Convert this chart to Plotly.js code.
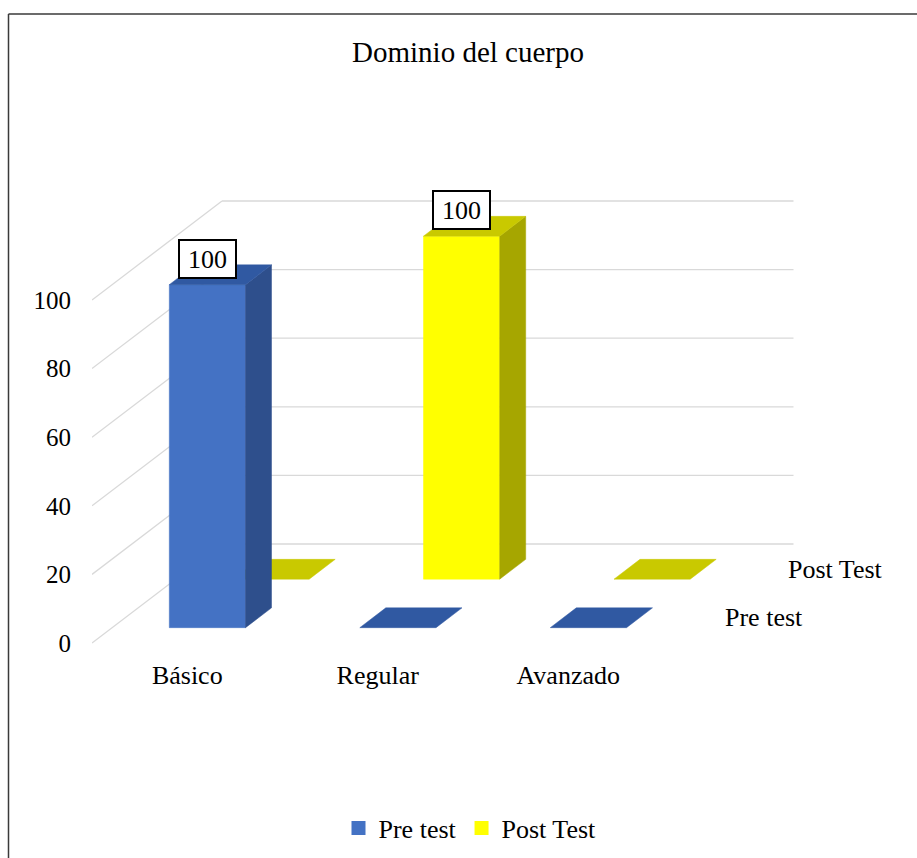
<!DOCTYPE html>
<html>
<head>
<meta charset="utf-8">
<script src="https://cdn.plot.ly/plotly-3.0.1.min.js"></script>
<style>
html,body{margin:0;padding:0;background:#ffffff;}
#chart{width:917px;height:858px;}
</style>
</head>
<body>
<div id="chart"></div>
<script>
// ---------- data ----------
const chartTitle = 'Dominio del cuerpo';
const categories = ['Básico', 'Regular', 'Avanzado'];
const seriesNames = ['Pre test', 'Post Test'];
const preTest = [100, 0, 0];
const postTest = [0, 100, 0];
const yTicks = [0, 20, 40, 60, 80, 100];

// ---------- styling / geometry ----------
const FONT = 'Liberation Serif';
const W = 917, H = 858;
const LEFT_PX = 92, ZERO_PX = 643;          // front-left corner of the floor
const CAT_PX = 190.5, VAL_PX = 3.43;         // pixels per category / per value unit
const DEPTH_X_PX = 130, DEPTH_Y_PX = 99;      // oblique shift of full depth
const MR = 17, MT = 100, PLOT_BOTTOM = 657;
const plotW = W - LEFT_PX - MR, plotH = PLOT_BOTTOM - MT;
const xRange = [0, plotW / CAT_PX];
const yRange = [-(PLOT_BOTTOM - ZERO_PX) / VAL_PX, (ZERO_PX - MT) / VAL_PX];
const DX = DEPTH_X_PX / CAT_PX, DY = DEPTH_Y_PX / VAL_PX;

const rowFront = [0.155, 0.645];   // depth position of each series row
const rowDepth = 0.2;
const barWidth = 0.4;
const seriesValues = [preTest, postTest];
const colors = [
  {front: '#4472C4', side: '#2E4F8C', top: '#3059A2', legend: '#4472C4'},
  {front: '#FFFF00', side: '#A6A600', top: '#C9C900', legend: '#FFFF00'}
];
const gridColor = '#d9d9d9';

function proj(c, z, v) { return [c + z * DX, v + z * DY]; }
function poly(pts, color) {
  return {
    type: 'scatter', mode: 'lines', x: pts.map(p => p[0]).concat([pts[0][0]]),
    y: pts.map(p => p[1]).concat([pts[0][1]]), fill: 'toself', fillcolor: color,
    line: {width: 0.5, color: color}, hoverinfo: 'skip', showlegend: false
  };
}

const traces = [];
// back wall gridlines and left wall diagonals
const gx = [], gy = [], dx = [], dy = [];
yTicks.forEach(v => {
  const a = proj(0, 1, v), b = proj(categories.length, 1, v);
  gx.push(a[0], b[0], null); gy.push(a[1], b[1], null);
  const f = proj(0, 0, v);
  dx.push(f[0], a[0], null); dy.push(f[1], a[1], null);
});
traces.push({type: 'scatter', mode: 'lines', x: gx, y: gy, line: {color: gridColor, width: 1.3}, hoverinfo: 'skip', showlegend: false});
traces.push({type: 'scatter', mode: 'lines', x: dx, y: dy, line: {color: gridColor, width: 1.3}, hoverinfo: 'skip', showlegend: false});

// bars: back row first, then front row
const annotations = [];
for (let s = seriesValues.length - 1; s >= 0; s--) {
  const zf = rowFront[s], zb = rowFront[s] + rowDepth;
  seriesValues[s].forEach((val, k) => {
    const c0 = k + 0.5 - barWidth / 2, c1 = k + 0.5 + barWidth / 2;
    if (val > 0) {
      traces.push(poly([proj(c0, zf, 0), proj(c1, zf, 0), proj(c1, zf, val), proj(c0, zf, val)], colors[s].front));
      traces.push(poly([proj(c1, zf, 0), proj(c1, zb, 0), proj(c1, zb, val), proj(c1, zf, val)], colors[s].side));
    }
    traces.push(poly([proj(c0, zf, val), proj(c1, zf, val), proj(c1, zb, val), proj(c0, zb, val)], colors[s].top));
    if (val > 0) {
      const p = proj(k + 0.5, zf, val);
      annotations.push({
        x: p[0], y: p[1], xref: 'x', yref: 'y', text: String(val), showarrow: false,
        yanchor: 'bottom', xanchor: 'center', yshift: 6,
        font: {family: FONT, size: 26, color: '#000'},
        bgcolor: '#ffffff', bordercolor: '#000000', borderwidth: 2, borderpad: 1,
        width: 53, height: 34
      });
    }
  });
  // series (depth) label at right of floor
  const pl = proj(categories.length, zf + rowDepth / 2, 0);
  annotations.push({
    x: pl[0], y: pl[1], xref: 'x', yref: 'y', text: seriesNames[s], showarrow: false,
    xanchor: 'left', yanchor: 'middle', xshift: 26,
    font: {family: FONT, size: 26, color: '#000'}
  });
}

// legend entries
seriesNames.forEach((name, s) => {
  traces.push({type: 'scatter', mode: 'markers', x: [null], y: [null], name: name,
    marker: {symbol: 'square', size: 14, color: colors[s].legend}, hoverinfo: 'skip'});
});

// frame (top and left edges of the chart box)
function px2paperX(px) { return (px - LEFT_PX) / plotW; }
function px2paperY(py) { return (PLOT_BOTTOM - py) / plotH; }
const shapes = [
  {type: 'line', xref: 'paper', yref: 'paper', x0: px2paperX(8.5), y0: px2paperY(14), x1: px2paperX(W + 5), y1: px2paperY(14), line: {color: '#3a3a3a', width: 1.5}},
  {type: 'line', xref: 'paper', yref: 'paper', x0: px2paperX(8.5), y0: px2paperY(14), x1: px2paperX(8.5), y1: px2paperY(H + 5), line: {color: '#3a3a3a', width: 1.5}}
];

const layout = {
  width: W, height: H,
  margin: {l: LEFT_PX, r: MR, t: MT, b: H - PLOT_BOTTOM, pad: 0},
  paper_bgcolor: '#ffffff', plot_bgcolor: 'rgba(0,0,0,0)',
  font: {family: FONT, color: '#000'},
  title: {text: chartTitle, font: {family: FONT, size: 29, color: '#000'},
    xref: 'container', yref: 'container', x: 468 / W, y: 1 - 52 / H, xanchor: 'center', yanchor: 'middle'},
  xaxis: {range: xRange, showgrid: false, zeroline: false, showline: false, ticks: '',
    tickmode: 'array', tickvals: categories.map((c, i) => i + 0.5), ticktext: categories,
    tickfont: {family: FONT, size: 26, color: '#000'}, fixedrange: true},
  yaxis: {range: yRange, showgrid: false, zeroline: false, showline: false, ticks: '',
    tickmode: 'array', tickvals: yTicks, ticktext: yTicks.map(String), ticklabelstandoff: 20,
    tickfont: {family: FONT, size: 25, color: '#000'}, fixedrange: true},
  showlegend: true,
  legend: {orientation: 'h', xref: 'container', yref: 'container', x: 470 / W, y: 1 - 828 / H,
    xanchor: 'center', yanchor: 'middle', font: {family: FONT, size: 26, color: '#000'},
    bgcolor: 'rgba(0,0,0,0)', itemwidth: 30, tracegroupgap: 0},
  annotations: annotations,
  shapes: shapes,
  hovermode: false
};

Plotly.newPlot('chart', traces, layout, {staticPlot: true, displayModeBar: false});
</script>
</body>
</html>
